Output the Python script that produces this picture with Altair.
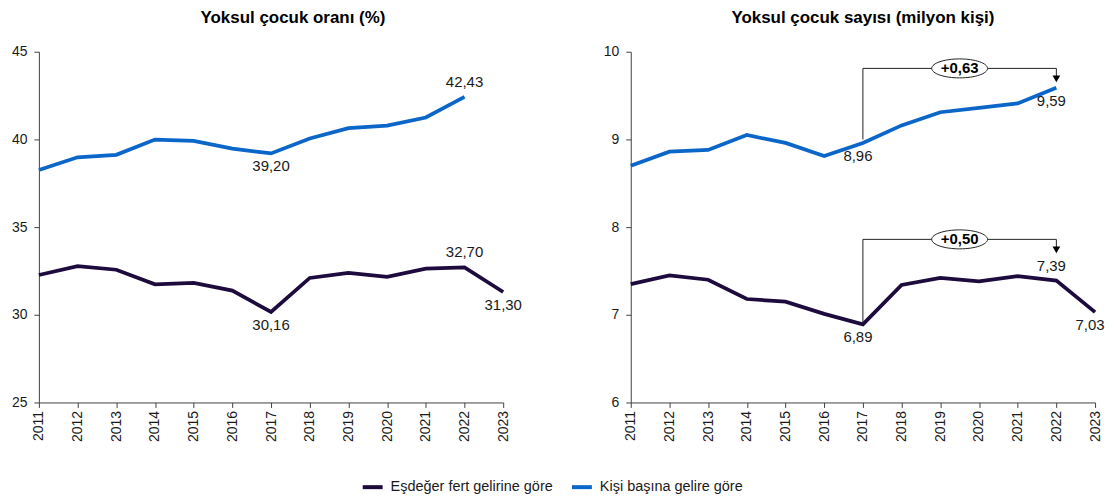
import altair as alt
import pandas as pd

# ---------------- data ----------------
years = list(range(2011, 2024))
series_names = ["Eşdeğer fert gelirine göre", "Kişi başına gelire göre"]

rate_esdeger = [32.27, 32.77, 32.57, 31.74, 31.82, 31.38, 30.16, 32.10, 32.39, 32.16, 32.63, 32.70, 31.30]
rate_kisi = [38.26, 38.98, 39.12, 39.99, 39.92, 39.48, 39.20, 40.05, 40.64, 40.79, 41.25, 42.43]

count_esdeger = [7.35, 7.45, 7.40, 7.18, 7.15, 7.01, 6.89, 7.34, 7.42, 7.38, 7.44, 7.39, 7.03]
count_kisi = [8.70, 8.86, 8.88, 9.05, 8.96, 8.81, 8.96, 9.16, 9.31, 9.36, 9.41, 9.59]

titles = ["Yoksul çocuk oranı (%)", "Yoksul çocuk sayısı (milyon kişi)"]
rate_ticks = [25, 30, 35, 40, 45]
count_ticks = [6, 7, 8, 9, 10]

# labelled points: year, series index, above/below
rate_label_years = [2017, 2022, 2017, 2022, 2023]
rate_label_series = [1, 1, 0, 0, 0]
rate_label_pos = ["below", "above", "below", "above", "below"]

count_label_years = [2017, 2022, 2017, 2022, 2023]
count_label_series = [1, 1, 0, 0, 0]
count_label_pos = ["below", "below", "below", "above", "below"]

change_from, change_to = 2017, 2022

# ---------------- styling ----------------
FONT = "Liberation Sans"
colors = ["#1c0b3c", "#0a66c8"]
ELLIPSE = "M -1 0 A 1 0.34 0 1 1 1 0 A 1 0.34 0 1 1 -1 0 Z"


def fmt(v):
    return f"{v:.2f}".replace(".", ",")


def long_df(esd, kisi):
    rows = []
    for s, vals in zip(series_names, [esd, kisi]):
        for y, v in zip(years, vals):
            rows.append({"year": y, "value": v, "series": s})
    return pd.DataFrame(rows)


def panel(esd, kisi, ticks, title, lyears, lseries, lpos, brackets, title_dx, label_dx):
    df = long_df(esd, kisi)
    xs = alt.Scale(domain=[years[0], years[-1]], nice=False, zero=False)
    ys = alt.Scale(domain=[ticks[0], ticks[-1]], nice=False, zero=False)
    xaxis = alt.Axis(values=years, format="d", labelAngle=-90, title=None,
                     grid=False, labelPadding=3, labelOverlap=False)
    yaxis = alt.Axis(values=ticks, format="d", title=None, grid=False,
                     labelPadding=7, labelOverlap=False)
    x = alt.X("year:Q", scale=xs, axis=xaxis)
    y = alt.Y("value:Q", scale=ys, axis=yaxis)

    lines = alt.Chart(df).mark_line(strokeWidth=3.75).encode(
        x=x, y=y,
        color=alt.Color("series:N", scale=alt.Scale(domain=series_names, range=colors),
                        legend=alt.Legend(title=None)),
    )

    series_vals = [esd, kisi]
    lab_rows = []
    for yr, si, p in zip(lyears, lseries, lpos):
        v = series_vals[si][years.index(yr)]
        lab_rows.append({"year": yr, "value": v, "label": fmt(v), "pos": p})
    lab = pd.DataFrame(lab_rows)
    above = alt.Chart(lab).transform_filter("datum.pos == 'above'").mark_text(
        font=FONT, fontSize=15, color="#1a1a1a", dy=-15, dx=label_dx, baseline="middle"
    ).encode(x=x, y=y, text="label:N")
    below = alt.Chart(lab).transform_filter("datum.pos == 'below'").mark_text(
        font=FONT, fontSize=15, color="#1a1a1a", dy=13, dx=label_dx, baseline="middle"
    ).encode(x=x, y=y, text="label:N")

    layers = [lines, above, below]

    if brackets:
        seg_rows, ell_rows, tri_rows = [], [], []
        for start, level, tri, change in brackets:
            seg_rows += [
                {"year": change_from, "year2": change_from, "value": start, "value2": level},
                {"year": change_from, "year2": change_to, "value": level, "value2": level},
                {"year": change_to, "year2": change_to, "value": level, "value2": tri},
            ]
            ell_rows.append({"year": (change_from + change_to) / 2, "value": level,
                             "t": "+" + fmt(change)})
            tri_rows.append({"year": change_to, "value": tri})
        segs = alt.Chart(pd.DataFrame(seg_rows)).mark_rule(color="#222", strokeWidth=1).encode(
            x=x, x2="year2:Q", y=y, y2="value2:Q")
        ell = alt.Chart(pd.DataFrame(ell_rows)).mark_point(
            shape=ELLIPSE, size=3136, filled=True, fill="white", stroke="#222",
            strokeWidth=1, opacity=1).encode(x=x, y=y)
        etxt = alt.Chart(pd.DataFrame(ell_rows)).mark_text(
            font=FONT, fontSize=15, fontWeight="bold", color="black", baseline="middle"
        ).encode(x=x, y=y, text="t:N")
        tri = alt.Chart(pd.DataFrame(tri_rows)).mark_point(
            shape="triangle-down", size=60, filled=True, color="black", opacity=1
        ).encode(x=x, y=y)
        layers += [segs, ell, etxt, tri]

    return alt.layer(*layers).properties(
        width=466, height=352,
        title=alt.TitleParams(title, fontSize=17, fontWeight="bold", font=FONT,
                              color="black", dx=title_dx, offset=18),
    )


count_brackets = [
    (9.00, 9.81, 9.69, count_kisi[years.index(change_to)] - count_kisi[years.index(change_from)]),
    (6.91, 7.86, 7.74, count_esdeger[years.index(change_to)] - count_esdeger[years.index(change_from)]),
]

left = panel(rate_esdeger, rate_kisi, rate_ticks, titles[0],
             rate_label_years, rate_label_series, rate_label_pos, None, 22, 0)
right = panel(count_esdeger, count_kisi, count_ticks, titles[1],
              count_label_years, count_label_series, count_label_pos, count_brackets, 0, -5)

chart = alt.hconcat(left, right, spacing=128, bounds="flush").resolve_scale(
    color="shared"
).properties(
    padding={"left": 3, "top": 0, "right": 5, "bottom": 5}
).configure_view(stroke=None).configure_axis(
    labelFont=FONT, labelFontSize=14, labelColor="#1a1a1a",
    domainColor="#404040", tickColor="#404040", tickSize=5, labelOverlap=False,
).configure_legend(
    orient="none", legendX=323, legendY=425, direction="horizontal",
    symbolType="stroke", symbolStrokeWidth=4, symbolSize=400,
    labelFont=FONT, labelFontSize=14.5, labelColor="#1a1a1a", labelLimit=0,
    columnPadding=11, labelOffset=6,
)

chart.save("out.html", embed_options={"renderer": "svg", "actions": False})
